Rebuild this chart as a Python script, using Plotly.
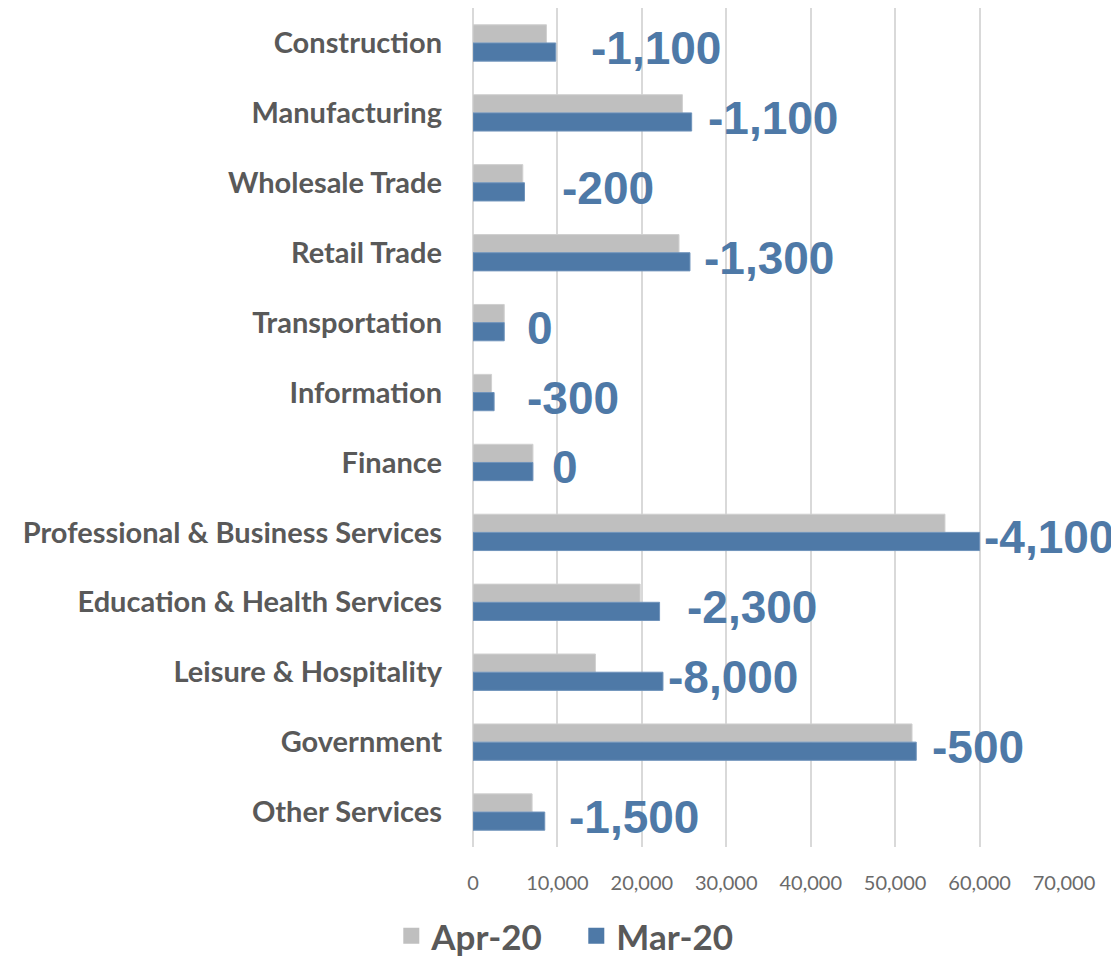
import plotly.graph_objects as go

# industries, top to bottom
industries = [
    "Construction", "Manufacturing", "Wholesale Trade", "Retail Trade",
    "Transportation", "Information", "Finance",
    "Professional & Business Services", "Education & Health Services",
    "Leisure & Hospitality", "Government", "Other Services",
]
apr_20 = [8700, 24800, 5900, 24400, 3700, 2200, 7100, 55900, 19800, 14500, 52000, 7000]
mar_20 = [9800, 25900, 6100, 25700, 3700, 2500, 7100, 60000, 22100, 22500, 52500, 8500]
change = [-1100, -1100, -200, -1300, 0, -300, 0, -4100, -2300, -8000, -500, -1500]

# horizontal nudge (px) of each change label off the end of the Mar bar
label_gap = [35, 16, 37, 14, 23, 33, 19, 4, 27, 5, 16, 24]

GRAY = "#BFBFBF"
BLUE = "#4E79A7"
TEXT = "#595959"

fig = go.Figure()
fig.add_trace(go.Bar(
    y=industries, x=apr_20, name="Apr-20", orientation="h", showlegend=False,
    marker=dict(color=GRAY, line=dict(color="#D0D0D0", width=1)),
))
fig.add_trace(go.Bar(
    y=industries, x=mar_20, name="Mar-20", orientation="h", showlegend=False,
    marker=dict(color=BLUE, line=dict(color="#6F93BB", width=1)),
))
# legend entries with bigger square swatches
for name, col in [("Apr-20", GRAY), ("Mar-20", BLUE)]:
    fig.add_trace(go.Scatter(
        x=[None], y=[None], mode="markers", name=name,
        marker=dict(symbol="square", size=21, color=col),
    ))

for ind, m, c, gap in zip(industries, mar_20, change, label_gap):
    fig.add_annotation(
        x=m, y=ind, text=f"{c:,}", showarrow=False,
        xanchor="left", yanchor="middle", xshift=gap - 2, yshift=-5,
        font=dict(family="Liberation Sans", size=46, color=BLUE, weight="bold"),
    )

# page body adds an 8px offset, so the figure is 8px smaller than the window
fig.update_layout(
    width=1111, height=949,
    margin=dict(l=465, r=55, t=0, b=110),
    paper_bgcolor="white", plot_bgcolor="white",
    barmode="group", bargap=0.48, bargroupgap=0.0,
    font=dict(family="Lato", color=TEXT),
    legend=dict(
        orientation="h", xref="container", yref="container",
        x=0.345, xanchor="left", y=0.022, yanchor="middle",
        font=dict(family="Lato", size=35, color=TEXT, weight="bold"),
        itemwidth=30, entrywidth=140,
    ),
)
fig.update_xaxes(
    range=[0, 70000], dtick=10000, tickformat=",",
    showgrid=True, gridcolor="#D9D9D9", gridwidth=1.5,
    zeroline=True, zerolinecolor="#D9D9D9", zerolinewidth=1.5,
    showline=False, ticks="", ticklabelstandoff=22,
    tickfont=dict(family="Lato", size=20, color="#6A6A6A"),
)
fig.update_yaxes(
    autorange="reversed", showgrid=False, showline=False, ticks="",
    ticklabelstandoff=30,
    tickfont=dict(family="Lato", size=29, color=TEXT, weight="bold"),
)

fig.write_html("out.html")
